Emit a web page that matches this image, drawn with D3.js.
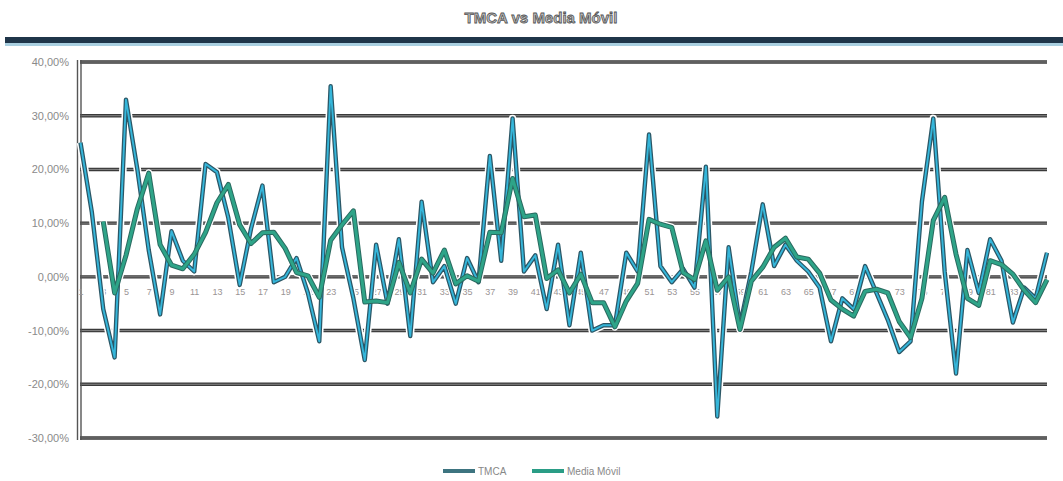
<!DOCTYPE html>
<html>
<head>
<meta charset="utf-8">
<script src="https://cdn.jsdelivr.net/npm/d3@7"></script>
<style>
  body { margin: 0; background: #fff; }
  svg { display: block; font-family: "Liberation Sans", Arial, sans-serif; }
</style>
</head>
<body>
<div id="chart"></div>
<script>
// periods 1..86, values in percent
var periods = d3.range(1, 87);
var tmca = [25, 12, -6, -15, 33, 20, 5, -7, 8.5, 3,
            1, 21, 19.5, 11, -1.5, 9, 17, -1, 0, 3.5,
            -3, -12, 35.5, 5.5, -4, -15.5, 6, -5, 7, -11,
            14, -1, 2, -5, 3.5, -1, 22.5, 3, 29.5, 1,
            4, -6, 6, -9, 4.5, -10, -9, -9, 4.5, 1,
            26.5, 2, -1, 1.5, -2, 20.5, -26, 5.5, -9, 1,
            13.5, 2, 6, 3, 1, -2, -12, -4, -6, 2,
            -3, -8, -14, -12, 14, 29.5, 1, -18, 5, -3,
            7, 3, -8.5, -2, -4, 4.5];
var mediaMovil = [null, null, 10.3, -3, 4, 12.7, 19.3, 6, 2.2, 1.5,
                  4.2, 8.3, 13.8, 17.2, 9.7, 6.2, 8.2, 8.3, 5.3, 0.8,
                  0.2, -3.8, 6.8, 9.7, 12.3, -4.7, -4.5, -4.8, 2.7, -3,
                  3.3, 0.7, 5, -1.3, 0.2, -0.8, 8.3, 8.2, 18.3, 11.2,
                  11.5, -0.3, 1.3, -3, 0.5, -4.8, -4.8, -9.3, -4.5, -1.2,
                  10.7, 9.8, 9.2, 0.8, -0.5, 6.7, -2.5, 0, -9.8, -0.8,
                  1.8, 5.5, 7.2, 3.7, 3.3, 0.7, -4.3, -6, -7.3, -2.7,
                  -2.3, -3, -8.3, -11.3, -4, 10.5, 14.8, 4.2, -4, -5.3,
                  3, 2.3, 0.5, -2.5, -4.8, -0.5];
var yTicks = [40, 30, 20, 10, 0, -10, -20, -30];
var xTickLabels = periods.filter(function(p) { return p % 2 === 1; });
var seriesNames = ["TMCA", "Media Móvil"];

var W = 1063, H = 481;
var plot = {left: 80, right: 1047, top: 62, bottom: 438};

var es = d3.formatLocale({decimal: ",", thousands: ".", grouping: [3], currency: ["", " €"], minus: "-"});
var pct = es.format(".2%");

var x = d3.scalePoint().domain(periods).range([80.5, 1047]);
var y = d3.scaleLinear().domain([-30, 40]).range([plot.bottom, plot.top]);

var svg = d3.select("#chart").append("svg")
    .attr("width", W)
    .attr("height", H);

svg.append("rect").attr("width", W).attr("height", H).attr("fill", "#fff");

// title + header rule
svg.append("text")
    .attr("x", 541).attr("y", 23)
    .attr("text-anchor", "middle")
    .attr("font-size", 15).attr("font-weight", "bold")
    .attr("fill", "#c4c4c4").attr("stroke", "#555").attr("stroke-width", 0.8)
    .text("TMCA vs Media Móvil");

svg.append("rect").attr("x", 5).attr("y", 37).attr("width", W - 5).attr("height", 6).attr("fill", "#1f3549");
svg.append("rect").attr("x", 5).attr("y", 43).attr("width", W - 5).attr("height", 3).attr("fill", "#a9cfe0");

// gridlines
var grid = svg.append("g").attr("class", "grid");
grid.selectAll("line.g1").data(yTicks).enter().append("line")
    .attr("class", "g1")
    .attr("x1", plot.left).attr("x2", plot.right)
    .attr("y1", function(d) { return y(d); }).attr("y2", function(d) { return y(d); })
    .attr("stroke", "#3a3a3a").attr("stroke-width", 3.4);
grid.selectAll("line.g2").data(yTicks).enter().append("line")
    .attr("class", "g2")
    .attr("x1", plot.left).attr("x2", plot.right)
    .attr("y1", function(d) { return y(d); }).attr("y2", function(d) { return y(d); })
    .attr("stroke", "#999").attr("stroke-width", 0.8);

// left axis (double line)
[77.5, 81].forEach(function(px) {
  svg.append("line")
      .attr("x1", px).attr("x2", px)
      .attr("y1", plot.top - 2).attr("y2", plot.bottom + 2)
      .attr("stroke", "#555").attr("stroke-width", 1.4);
});

// y labels
var yAxis = svg.append("g")
    .attr("transform", "translate(69,0)")
    .call(d3.axisLeft(y).tickValues(yTicks).tickSize(0).tickPadding(0)
      .tickFormat(function(d) { return pct(d / 100); }));
yAxis.select(".domain").remove();
yAxis.selectAll("text")
    .attr("font-size", 11).attr("fill", "#8a8a8a")
    .attr("font-family", "'Liberation Sans', Arial, sans-serif");

// x labels under the 0 line
var xAxis = svg.append("g")
    .attr("transform", "translate(0," + (y(0) + 12) + ")")
    .call(d3.axisBottom(x).tickValues(xTickLabels).tickSize(0).tickPadding(0));
xAxis.select(".domain").remove();
xAxis.selectAll("text")
    .attr("font-size", 9).attr("fill", "#9a9494")
    .attr("font-family", "'Liberation Sans', Arial, sans-serif");

// lines
var line = d3.line()
    .defined(function(d) { return d != null; })
    .x(function(d, i) { return x(periods[i]); })
    .y(function(d) { return y(d); });

var lines = svg.append("g").attr("fill", "none").attr("stroke-linejoin", "round");
[tmca, mediaMovil].forEach(function(s) {
  lines.append("path").attr("d", line(s)).attr("stroke", "#fff").attr("stroke-width", 7.5);
});
lines.append("path").attr("d", line(tmca)).attr("stroke", "#2b5766").attr("stroke-width", 4.4);
lines.append("path").attr("d", line(tmca)).attr("stroke", "#35b6da").attr("stroke-width", 1.9);
lines.append("path").attr("d", line(mediaMovil)).attr("stroke", "#2a6a60").attr("stroke-width", 5);
lines.append("path").attr("d", line(mediaMovil)).attr("stroke", "#2ea488").attr("stroke-width", 3);

// legend
var legendColors = ["#3d7480", "#2a9d86"];
var legendX = [443, 532];
var legend = svg.selectAll(".legend").data(seriesNames).enter().append("g")
    .attr("class", "legend")
    .attr("transform", function(d, i) { return "translate(" + legendX[i] + ",471)"; });
legend.append("line")
    .attr("x1", 0).attr("x2", 32)
    .attr("stroke", function(d, i) { return legendColors[i]; })
    .attr("stroke-width", 4);
legend.append("text")
    .attr("x", 35).attr("dy", "0.35em")
    .attr("font-size", 10).attr("fill", "#888")
    .text(function(d) { return d; });
</script>
</body>
</html>
